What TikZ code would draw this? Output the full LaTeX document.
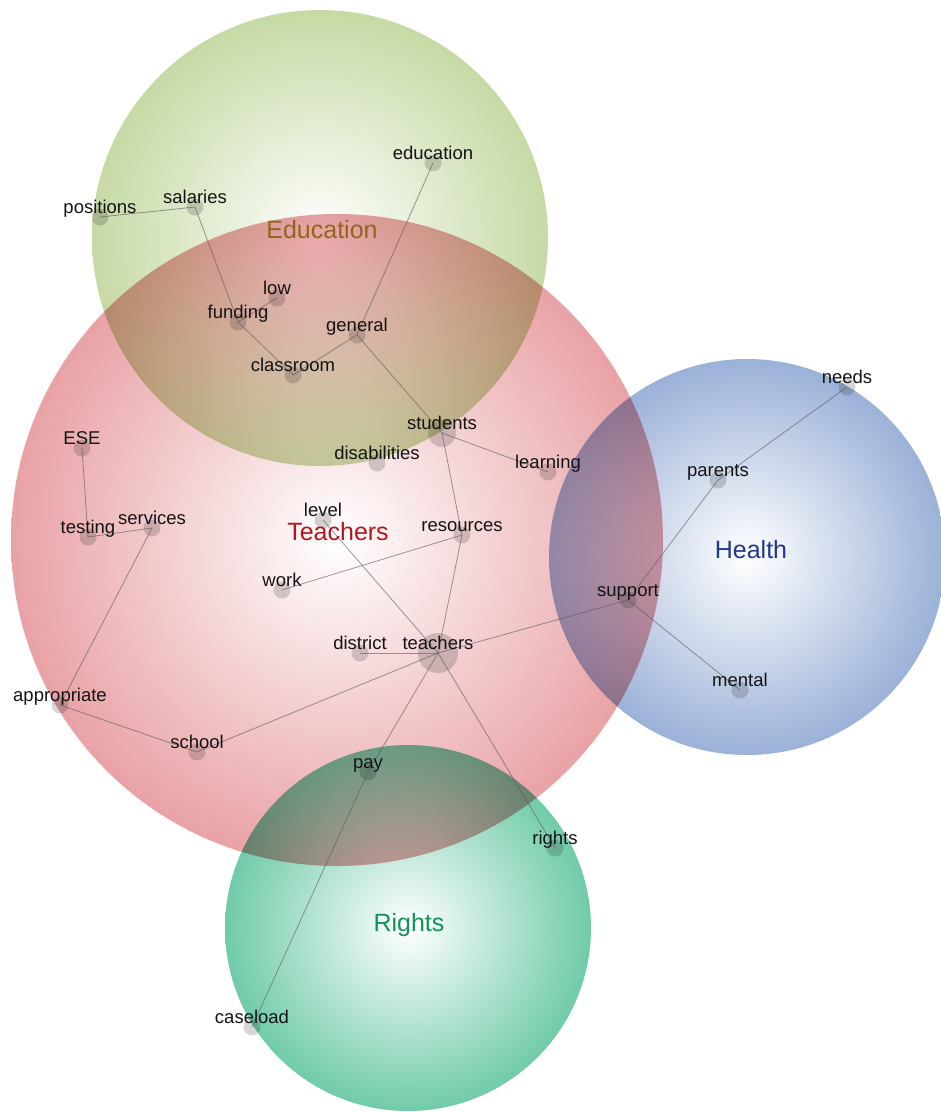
\documentclass[tikz,border=0pt]{standalone}
\usepackage{fontspec}
\setmainfont{Liberation Sans}
\usetikzlibrary{calc}
\definecolor{cEdu}{RGB}{198,218,165}
\definecolor{cTea}{RGB}{233,162,166}
\definecolor{cHea}{RGB}{155,177,216}
\definecolor{cRig}{RGB}{112,203,168}
\definecolor{tEdu}{RGB}{145,102,30}
\definecolor{tTea}{RGB}{185,20,30}
\definecolor{tHea}{RGB}{35,55,145}
\definecolor{tRig}{RGB}{20,145,90}
\tikzset{
  topic/.style={inner color=white, blend mode=multiply},
  dot/.style={circle, fill=black, fill opacity=0.16, draw=none, inner sep=0pt, minimum size=17pt},
  bigdot/.style={dot, minimum size=28pt},
  hugedot/.style={dot, minimum size=40pt},
  lbl/.style={font=\fontsize{18.5}{20}\selectfont, text=black!92, anchor=base, inner sep=0pt},
  cat/.style={font=\fontsize{25}{28}\selectfont, anchor=base, inner sep=0pt},
  link/.style={draw=black!65, line width=0.8pt, draw opacity=0.6},
}
\begin{document}
\begin{tikzpicture}[x=1pt,y=-1pt]
\useasboundingbox (0,0) rectangle (941,1112);
\fill[white] (0,0) rectangle (941,1112);
% topic circles
\shade[topic, outer color=cEdu] (320,238) circle[radius=228pt];
\shade[topic, outer color=cTea] (337,540) circle[radius=326pt];
\shade[topic, outer color=cHea] (747,557) circle[radius=198pt];
\shade[topic, outer color=cRig] (408,928) circle[radius=183pt];
% word nodes
\node[dot] (positions) at (100,217) {};
\node[dot] (salaries) at (195,207) {};
\node[dot] (low) at (277,298) {};
\node[dot] (funding) at (238,322) {};
\node[dot] (general) at (357,335) {};
\node[dot] (classroom) at (293,375) {};
\node[dot] (education) at (433,163) {};
\node[bigdot] (students) at (442,433) {};
\node[dot] (disabilities) at (377,463) {};
\node[dot] (learning) at (548,472) {};
\node[dot] (ESE) at (82,448) {};
\node[dot] (testing) at (88,537) {};
\node[dot] (services) at (152,528) {};
\node[dot] (level) at (323,520) {};
\node[dot] (resources) at (462,535) {};
\node[dot] (work) at (282,590) {};
\node[dot] (support) at (628,600) {};
\node[dot] (district) at (360,653) {};
\node[hugedot] (teachers) at (438,653) {};
\node[dot] (parents) at (718,480) {};
\node[dot] (needs) at (847,387) {};
\node[dot] (mental) at (740,690) {};
\node[dot] (appropriate) at (60,705) {};
\node[dot] (school) at (197,752) {};
\node[dot] (pay) at (368,772) {};
\node[dot] (rights) at (555,848) {};
\node[dot] (caseload) at (252,1027) {};
% connectors
\foreach \a/\b in {positions/salaries, salaries/funding, funding/low, funding/classroom,
  classroom/general, general/education, general/students, students/learning,
  students/resources, resources/work, resources/teachers, level/teachers,
  district/teachers, teachers/support, support/parents, parents/needs,
  support/mental, teachers/school, school/appropriate, appropriate/services,
  ESE/testing, testing/services, teachers/pay, pay/caseload, teachers/rights}
  \draw[link] (\a.center) -- (\b.center);
% word labels
\foreach \n in {positions, salaries, low, funding, general, classroom, education,
  students, disabilities, learning, ESE, testing, services, level, resources, work,
  support, district, teachers, parents, needs, mental, appropriate, school, pay,
  rights, caseload}
  \node[lbl] (l-\n) at ([yshift=4pt]\n.center) {\n};
% topic labels
\node[cat, text=tEdu] (c-edu) at (322,238) {Education};
\node[cat, text=tTea] (c-tea) at (338,540) {Teachers};
\node[cat, text=tHea] (c-hea) at (751,558) {Health};
\node[cat, text=tRig] (c-rig) at (409,931) {Rights};
\end{tikzpicture}
\end{document}
